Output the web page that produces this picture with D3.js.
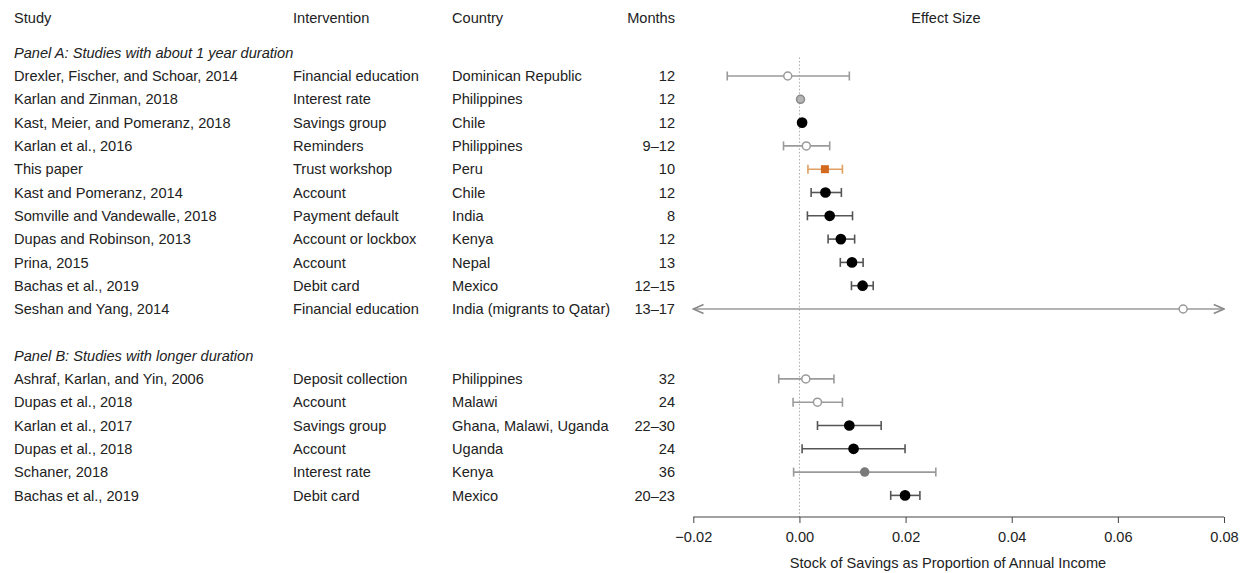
<!DOCTYPE html>
<html>
<head>
<meta charset="utf-8">
<script src="https://cdn.jsdelivr.net/npm/d3@7"></script>
<style>
  body { margin: 0; background: #fff; }
  svg text { font-family: "Liberation Sans", Arial, sans-serif; font-size: 14.6px; fill: #222; }
</style>
</head>
<body>
<div id="chart"></div>
<script>
// table columns
const studies = [
    "Drexler, Fischer, and Schoar, 2014", "Karlan and Zinman, 2018", "Kast, Meier, and Pomeranz, 2018",
    "Karlan et al., 2016", "This paper", "Kast and Pomeranz, 2014", "Somville and Vandewalle, 2018",
    "Dupas and Robinson, 2013", "Prina, 2015", "Bachas et al., 2019", "Seshan and Yang, 2014",
    "Ashraf, Karlan, and Yin, 2006", "Dupas et al., 2018", "Karlan et al., 2017", "Dupas et al., 2018",
    "Schaner, 2018", "Bachas et al., 2019"
];
const interventions = [
    "Financial education", "Interest rate", "Savings group", "Reminders", "Trust workshop", "Account",
    "Payment default", "Account or lockbox", "Account", "Debit card", "Financial education",
    "Deposit collection", "Account", "Savings group", "Account", "Interest rate", "Debit card"
];
const countries = [
    "Dominican Republic", "Philippines", "Chile", "Philippines", "Peru", "Chile", "India", "Kenya",
    "Nepal", "Mexico", "India (migrants to Qatar)",
    "Philippines", "Malawi", "Ghana, Malawi, Uganda", "Uganda", "Kenya", "Mexico"
];
const months = ["12", "12", "12", "9\u201312", "10", "12", "8", "12", "13", "12\u201315", "13\u201317",
    "32", "24", "22\u201330", "24", "36", "20\u201323"];
// row slot of each study (slot 11 is blank, 12 is the Panel B heading)
const rowSlots = [0, 1, 2, 3, 4, 5, 6, 7, 8, 9, 10, 13, 14, 15, 16, 17, 18];

// effect sizes and confidence intervals
const estimates = [-0.0022, 0.0002, 0.0005, 0.0013, 0.0048, 0.0049, 0.0057, 0.0078, 0.0099, 0.0119, 0.0723,
    0.0012, 0.0034, 0.0094, 0.0102, 0.0123, 0.0199];
const ciLow = [-0.0136, null, null, -0.0030, 0.0016, 0.0022, 0.0015, 0.0054, 0.0077, 0.0098, -0.02,
    -0.0039, -0.0012, 0.0034, 0.0005, -0.0011, 0.0172];
const ciHigh = [0.0094, null, null, 0.0057, 0.0081, 0.0079, 0.0100, 0.0104, 0.0120, 0.0139, 0.08,
    0.0065, 0.0081, 0.0154, 0.0199, 0.0257, 0.0227];
const truncated = [false, false, false, false, false, false, false, false, false, false, true,
    false, false, false, false, false, false];
// marker kind: "open" grey hollow, "grey" filled grey, "light" light filled, "black", "this" orange square
const markerKind = ["open", "light", "black", "open", "this", "black", "black", "black", "black", "black", "open",
    "open", "open", "black", "black", "grey", "black"];

const headers = ["Study", "Intervention", "Country", "Months"];
const panels = [
    {slot: -1, label: "Panel A: Studies with about 1 year duration"},
    {slot: 12, label: "Panel B: Studies with longer duration"}
];
const xTicks = [-0.02, 0, 0.02, 0.04, 0.06, 0.08];

const width = 1247, height = 573;
const svg = d3.select("#chart").append("svg")
    .attr("width", width)
    .attr("height", height);

const x = d3.scaleLinear().domain([-0.02, 0.08]).range([693.3, 1224]);
const y = d3.scaleLinear().domain([0, 18]).range([76, 76 + 18 * 23.3]);
const axisY = 517;

const colX = {study: 14, intervention: 293, country: 452, months: 675};

const style = {
    open: {ci: "#9a9a9a", stroke: "#9a9a9a", fill: "#fff"},
    light: {ci: "#9a9a9a", stroke: "#8a8a8a", fill: "#b5b5b5"},
    grey: {ci: "#9a9a9a", stroke: "#7a7a7a", fill: "#7a7a7a"},
    black: {ci: "#555", stroke: "#000", fill: "#000"},
    this: {ci: "#e0a060", stroke: "#d2691e", fill: "#d2691e"}
};

// column headers
const hdr = svg.append("g");
hdr.append("text").attr("x", colX.study).attr("y", 18).attr("dy", "0.35em").text(headers[0]);
hdr.append("text").attr("x", colX.intervention).attr("y", 18).attr("dy", "0.35em").text(headers[1]);
hdr.append("text").attr("x", colX.country).attr("y", 18).attr("dy", "0.35em").text(headers[2]);
hdr.append("text").attr("x", colX.months).attr("y", 18).attr("dy", "0.35em")
    .attr("text-anchor", "end").text(headers[3]);
hdr.append("text").attr("x", 946).attr("y", 18).attr("dy", "0.35em")
    .attr("text-anchor", "middle").text("Effect Size");

// panel headings
svg.selectAll("text.panel")
    .data(panels)
    .enter()
    .append("text")
    .attr("class", "panel")
    .attr("x", colX.study)
    .attr("y", d => y(d.slot))
    .attr("dy", "0.35em")
    .style("font-style", "italic")
    .text(d => d.label);

// table rows
const rows = svg.selectAll("g.row")
    .data(studies.map((s, i) => i))
    .enter()
    .append("g")
    .attr("class", "row")
    .attr("transform", i => "translate(0," + y(rowSlots[i]) + ")");

rows.append("text").attr("x", colX.study).attr("dy", "0.35em").text(i => studies[i]);
rows.append("text").attr("x", colX.intervention).attr("dy", "0.35em").text(i => interventions[i]);
rows.append("text").attr("x", colX.country).attr("dy", "0.35em").text(i => countries[i]);
rows.append("text").attr("x", colX.months).attr("dy", "0.35em")
    .attr("text-anchor", "end").text(i => months[i]);

// zero reference line
svg.append("line")
    .attr("x1", x(0)).attr("x2", x(0))
    .attr("y1", y(-0.8)).attr("y2", axisY)
    .attr("stroke", "#aaa")
    .attr("stroke-width", 1)
    .attr("stroke-dasharray", "1.5,2");

// x axis (R style: ticks below the line)
const axis = svg.append("g")
    .attr("transform", "translate(0," + axisY + ")")
    .call(d3.axisBottom(x).tickValues(xTicks).tickSize(6).tickPadding(9)
        .tickFormat(d3.format(".2f")));
axis.select(".domain").attr("d", "M" + x(-0.02) + ",0H" + x(0.08)).attr("stroke", "#444");
axis.selectAll(".tick line").attr("stroke", "#444");
axis.selectAll(".tick text")
    .style("font-family", "Liberation Sans, Arial, sans-serif")
    .style("font-size", "14.6px")
    .attr("fill", "#222")
    .text(d => d3.format(".2f")(d).replace("-", "\u2212"));

svg.append("text")
    .attr("x", 948).attr("y", 563).attr("dy", "0.35em")
    .attr("text-anchor", "middle")
    .text("Stock of Savings as Proportion of Annual Income");

// arrow heads for truncated intervals
const defs = svg.append("defs");
defs.append("marker")
    .attr("id", "arrow")
    .attr("viewBox", "0 0 10 10")
    .attr("refX", 9).attr("refY", 5)
    .attr("markerWidth", 8).attr("markerHeight", 8)
    .attr("orient", "auto-start-reverse")
    .append("path")
    .attr("d", "M1,1.5L9,5L1,8.5")
    .attr("fill", "none")
    .attr("stroke", "#8a8a8a")
    .attr("stroke-width", 1.3);

const marks = svg.selectAll("g.mark")
    .data(studies.map((s, i) => i))
    .enter()
    .append("g")
    .attr("class", "mark")
    .attr("transform", i => "translate(0," + y(rowSlots[i]) + ")");

// confidence intervals
marks.filter(i => ciLow[i] !== null)
    .append("line")
    .attr("x1", i => x(ciLow[i]))
    .attr("x2", i => x(ciHigh[i]))
    .attr("stroke", i => style[markerKind[i]].ci)
    .attr("stroke-width", 1.6)
    .attr("marker-start", i => truncated[i] ? "url(#arrow)" : null)
    .attr("marker-end", i => truncated[i] ? "url(#arrow)" : null);

// interval caps
["lo", "hi"].forEach(side => {
    marks.filter(i => ciLow[i] !== null && !truncated[i])
        .append("line")
        .attr("x1", i => x(side === "lo" ? ciLow[i] : ciHigh[i]))
        .attr("x2", i => x(side === "lo" ? ciLow[i] : ciHigh[i]))
        .attr("y1", -4.5).attr("y2", 4.5)
        .attr("stroke", i => style[markerKind[i]].ci)
        .attr("stroke-width", 1.6);
});

// point estimates
marks.filter(i => markerKind[i] !== "this")
    .append("circle")
    .attr("cx", i => x(estimates[i]))
    .attr("r", i => markerKind[i] === "black" ? 4.6 : 4)
    .attr("fill", i => style[markerKind[i]].fill)
    .attr("stroke", i => style[markerKind[i]].stroke)
    .attr("stroke-width", 1.5);

marks.filter(i => markerKind[i] === "this")
    .append("rect")
    .attr("x", i => x(estimates[i]) - 4)
    .attr("y", -4)
    .attr("width", 8).attr("height", 8)
    .attr("fill", i => style[markerKind[i]].fill);
</script>
</body>
</html>
